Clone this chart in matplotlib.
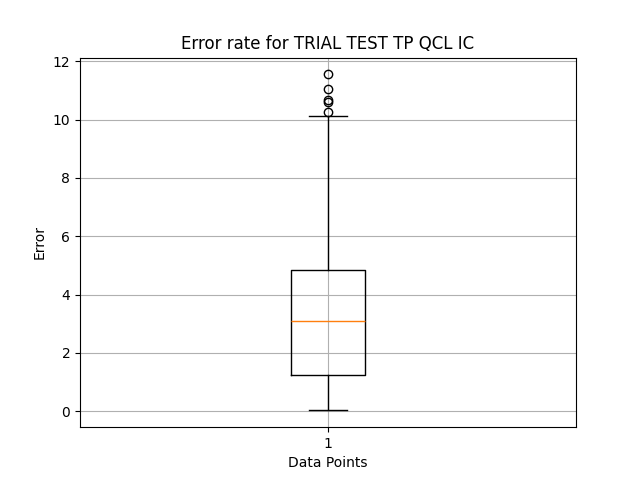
import matplotlib
matplotlib.use('Agg')
import matplotlib.pyplot as plt

# box plot summary
whislo = 0.03
q1 = 1.25
med = 3.08
q3 = 4.83
whishi = 10.12
fliers = [10.27, 10.60, 10.67, 11.05, 11.55]

stats = [dict(whislo=whislo, q1=q1, med=med, q3=q3, whishi=whishi,
              fliers=fliers, label='1')]

fig, ax = plt.subplots(figsize=(6.4, 4.8), dpi=100)
ax.bxp(stats)
ax.set_title('Error rate for TRIAL TEST TP QCL IC')
ax.set_xlabel('Data Points')
ax.set_ylabel('Error')
ax.grid(True)
fig.savefig('out.png')
